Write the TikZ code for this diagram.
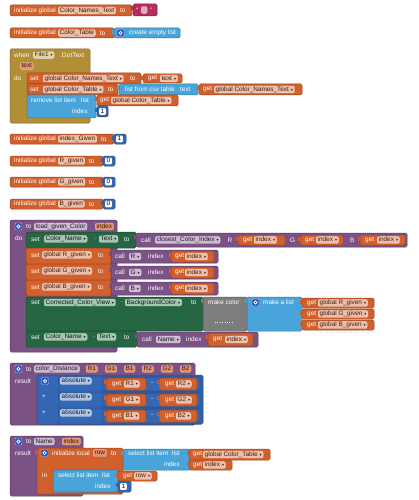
\documentclass[tikz,border=0pt]{standalone}
\usepackage{fontspec}
\setmainfont{Liberation Sans}
\newfontfamily\symfont{DejaVu Sans}
\usetikzlibrary{positioning}
\definecolor{varc}{RGB}{210,96,45}
\definecolor{textc}{RGB}{179,46,94}
\definecolor{listc}{RGB}{73,165,217}
\definecolor{evc}{RGB}{178,143,54}
\definecolor{mathc}{RGB}{52,104,180}
\definecolor{procc}{RGB}{123,82,134}
\definecolor{compc}{RGB}{38,102,66}
\definecolor{colc}{RGB}{125,125,125}
\definecolor{gearc}{RGB}{50,85,190}
\newcommand{\dd}{\hspace{2pt}{\symfont\fontsize{4}{4}\selectfont ▾}}
\newcommand{\blk}[5]{\draw[blk=#5] (#1,#2) rectangle (#3,#4);}
\newcommand{\vblk}[5]{\fill[#5] (#1-2,#2+2) rectangle (#1+1,#2+6);\draw[blk=#5] (#1,#2) rectangle (#3,#4);}

\begin{document}
\begin{tikzpicture}[x=1pt,y=-1pt,font=\fontsize{6.4}{7}\selectfont,
  blk/.style={draw=#1!72!black, fill=#1, rounded corners=1.5pt, line width=0.5pt},
  lbl/.style={anchor=west, inner sep=0pt, text=white},
  fld/.style={anchor=west, fill=#1!40!white, draw=white!75!#1, rounded corners=2pt, inner xsep=1.5pt, inner ysep=0.5pt, text height=4.6pt, text depth=1.3pt, text=#1!30!black},
  par/.style={anchor=west, fill=varc!70!white, draw=white!60!varc, rounded corners=2pt, inner xsep=1.5pt, inner ysep=0.5pt, text height=4.6pt, text depth=1.3pt, text=varc!30!black},
  num/.style={anchor=west, fill=white, rounded corners=1pt, inner xsep=1.5pt, inner ysep=0.5pt, text height=4.6pt, text depth=1.3pt, text=black},
  gear/.style={fill=gearc, draw=white!60!gearc, rounded corners=1pt, minimum size=7pt, inner sep=0pt,
    path picture={\draw[white, line width=0.7pt] (path picture bounding box.center) circle (1.6pt);}}]
\useasboundingbox (0,0) rectangle (418,500);
\fill[white] (0,0) rectangle (418,500);

\blk{10}{5}{132}{16}{varc}
\node[lbl] (ig1) at (14,10.5) {initialize global};
\node[fld=varc] (cnt) at (58,10.5) {Color\_Names\_Text};
\node[lbl] (to1) at (120,10.5) {to};
\vblk{133}{4}{157}{16}{textc}
\node[lbl] (q1) at (136,10) {“};
\node[fld=textc, minimum width=6pt] (str) at (141,10) {};
\node[lbl] (q2) at (150,10) {”};

\blk{10}{28}{114}{38}{varc}
\node[lbl] (ig2) at (14,33) {initialize global};
\node[fld=varc] (ct) at (58,33) {Color\_Table};
\node[lbl] (to2) at (100,33) {to};
\vblk{114}{28}{180}{38}{listc}
\node[gear] (g1) at (120.5,33) {};
\node[lbl] (cel) at (129,33) {create empty list};

\blk{10}{49}{90}{123}{evc}
\node[lbl] (when) at (14,55) {when};
\node[fld=evc] (file) at (33,55) {File1\dd};
\node[lbl] (got) at (60,55) {.GotText};
\node[par] (ptext) at (20,66) {text};
\node[lbl] (do1) at (14,78) {do};
\blk{27}{73}{141}{84}{varc}
\node[lbl] (set1) at (30,78.5) {set};
\node[fld=varc] (s1v) at (43,78.5) {global Color\_Names\_Text\dd};
\node[lbl] (to3) at (130,78.5) {to};
\vblk{143}{74}{182}{83}{varc}
\node[lbl] (get1) at (148,78.5) {get};
\node[fld=varc] (g1v) at (160,78.5) {text\dd};
\blk{27}{84}{118}{95}{varc}
\node[lbl] (set2) at (30,89.5) {set};
\node[fld=varc] (s2v) at (43,89.5) {global Color\_Table\dd};
\node[lbl] (to4) at (108,89.5) {to};
\vblk{119}{84}{198}{95}{listc}
\node[lbl] (lfc) at (125,89.5) {list from csv table};
\node[lbl] (lfct) at (180,89.5) {text};
\vblk{199}{84}{302}{95}{varc}
\node[lbl] (get2) at (203,89.5) {get};
\node[fld=varc] (g2v) at (214,89.5) {global Color\_Names\_Text\dd};
\blk{27}{95}{96}{118}{listc}
\node[lbl] (rli) at (31,100.5) {remove list item};
\node[lbl] (rlil) at (81,100.5) {list};
\vblk{97}{95}{178}{106}{varc}
\node[lbl] (get3) at (100,100.5) {get};
\node[fld=varc] (g3v) at (111,100.5) {global Color\_Table\dd};
\node[lbl] (idx1) at (72,111.5) {index};
\vblk{97}{106}{108}{117}{mathc}
\node[num] (n1) at (99,111.5) {1};

\blk{10}{134}{114}{144}{varc}
\node[lbl] (ig3) at (14,139) {initialize global};
\node[fld=varc] (ig3v) at (58,139) {index\_Given};
\node[lbl] (to5) at (101,139) {to};
\vblk{114}{134}{126}{144}{mathc}
\node[num] (n2) at (116,139) {1};
\foreach \c/\y in {R/156,G/177,B/199} {
  \blk{10}{\y}{103}{\y+10}{varc}
  \node[lbl] (ig\c) at (14,\y+5) {initialize global};
  \node[fld=varc] (iv\c) at (58,\y+5) {\c\_given};
  \node[lbl] (it\c) at (89,\y+5) {to};
  \vblk{103}{\y}{115}{\y+10}{mathc}
  \node[num] (in\c) at (105,\y+5) {0};
}

\blk{10}{220}{117}{352}{procc}
\node[gear] (g2) at (18.5,226.5) {};
\node[lbl] (to6) at (26,226.5) {to};
\node[fld=procc] (lgc) at (34,226.5) {load\_given\_Color};
\node[par] (p1) at (95,226.5) {index};
\node[lbl] (do2) at (15,238) {do};
\blk{26}{232}{136}{248}{compc}
\node[lbl] (set3) at (31,239) {set};
\node[fld=compc] (cn1) at (44,239) {Color\_Name\dd};
\node[lbl] (dot1) at (95,239) {.};
\node[fld=compc] (tx1) at (99,239) {Text\dd};
\node[lbl] (to7) at (124,239) {to};
\vblk{136}{233}{407}{247}{procc}
\node[lbl] (call1) at (141,240) {call};
\node[fld=procc] (cci) at (155,240) {closest\_Color\_Index\dd};
\node[lbl] (rr) at (227.5,240) {R};
\vblk{238}{235}{285}{245}{varc}
\node[lbl] (get4) at (243,240) {get};
\node[fld=varc] (gi1) at (254,240) {index\dd};
\node[lbl] (gg) at (290,240) {G};
\vblk{300}{235}{343}{245}{varc}
\node[lbl] (get5) at (305,240) {get};
\node[fld=varc] (gi2) at (316,240) {index\dd};
\node[lbl] (bb) at (350,240) {B};
\vblk{360}{235}{405}{245}{varc}
\node[lbl] (get6) at (365,240) {get};
\node[fld=varc] (gi3) at (377,240) {index\dd};
\foreach \c/\y in {R/248,G/264,B/280} {
  \blk{26}{\y}{111}{\y+16}{varc}
  \node[lbl] (set\c) at (31,\y+7) {set};
  \node[fld=varc] (gv\c) at (42,\y+7) {global \c\_given\dd};
  \node[lbl] (to\c) at (98,\y+7) {to};
  \vblk{111}{\y+2}{218}{\y+15}{procc}
  \node[lbl] (call\c) at (115,\y+8.5) {call};
  \node[fld=procc] (fn\c) at (129,\y+8.5) {\c\dd};
  \node[lbl] (ix\c) at (148,\y+8.5) {index};
  \vblk{171}{\y+3}{214}{\y+14}{varc}
  \node[lbl] (gt\c) at (175,\y+8.5) {get};
  \node[fld=varc] (gix\c) at (185,\y+8.5) {index\dd};
}
\blk{26}{297}{203}{331}{compc}
\node[lbl] (set4) at (31,302.5) {set};
\node[fld=compc] (ccv) at (44,302.5) {Corrected\_Color\_View\dd};
\node[lbl] (dot2) at (121,302.5) {.};
\node[fld=compc] (bgc) at (125,302.5) {BackgroundColor\dd};
\node[lbl] (to8) at (191,302.5) {to};
\vblk{203}{297}{247}{331}{colc}
\node[lbl] (mkc) at (208,302.5) {make color};
\draw[dotted, white!85!colc] (215,322) -- (233,322);
\vblk{247}{297}{302}{331}{listc}
\node[gear] (g3) at (255.5,302.5) {};
\node[lbl] (mal) at (263,302.5) {make a list};
\foreach \c/\y in {R/297,G/308,B/319} {
  \vblk{302}{\y+1}{374}{\y+11}{varc}
  \node[lbl] (gl\c) at (307,\y+6) {get};
  \node[fld=varc] (gg\c) at (318,\y+6) {global \c\_given\dd};
}
\draw[dotted, black!15] (320,332.5) -- (373,332.5);
\blk{26}{331}{137}{347}{compc}
\node[lbl] (set5) at (31,337) {set};
\node[fld=compc] (cn2) at (44,337) {Color\_Name\dd};
\node[lbl] (dot3) at (93,337) {.};
\node[fld=compc] (tx2) at (97,337) {Text\dd};
\node[lbl] (to9) at (124,337) {to};
\vblk{137}{332}{258}{347}{procc}
\node[lbl] (call2) at (142,339.5) {call};
\node[fld=procc] (nm) at (156,339.5) {Name\dd};
\node[lbl] (ix2) at (186,339.5) {index};
\vblk{208}{333}{253}{346}{varc}
\node[lbl] (get7) at (213,339.5) {get};
\node[fld=varc] (gi4) at (225,339.5) {index\dd};

\blk{10}{363}{195}{425}{procc}
\node[gear] (g4) at (18.5,369) {};
\node[lbl] (to10) at (26,369) {to};
\node[fld=procc] (cdn) at (34,369) {color\_Distance};
\foreach \p/\x in {R1/86,G1/105,B1/124,R2/142,G2/161,B2/180}
  \node[par] (p\p) at (\x,369) {\p};
\node[lbl] (res1) at (15,381) {result};
\vblk{37}{375}{203}{424}{mathc}
\node[gear] (g5) at (45,381) {};
\node[lbl] (pl1) at (42,397) {+};
\node[lbl] (pl2) at (42,413) {+};
\foreach \a/\b/\y in {R1/R2/376,G1/G2/392,B1/B2/408} {
  \vblk{58}{\y}{202}{\y+16}{mathc}
  \node[fld=mathc] (ab\a) at (60,\y+5) {absolute\dd};
  \vblk{102}{\y+1}{200}{\y+15}{mathc}
  \vblk{106}{\y+2}{146}{\y+14}{varc}
  \node[lbl] (ga\a) at (112,\y+8) {get};
  \node[fld=varc] (fa\a) at (124,\y+8) {\a\dd};
  \node[lbl] (mi\a) at (151,\y+8) {-};
  \vblk{159}{\y+2}{197}{\y+14}{varc}
  \node[lbl] (gb\a) at (165,\y+8) {get};
  \node[fld=varc] (fb\a) at (176,\y+8) {\b\dd};
}

\blk{10}{436}{83}{496}{procc}
\node[gear] (g6) at (18.5,441.5) {};
\node[lbl] (to11) at (26,441.5) {to};
\node[fld=procc] (nmp) at (34,441.5) {Name};
\node[par] (p2) at (62,441.5) {index};
\node[lbl] (res2) at (15,453) {result};
\vblk{37}{448}{123}{494}{varc}
\node[gear] (g7) at (44.5,453) {};
\node[lbl] (ilc) at (52,453) {initialize local};
\node[par] (prow) at (93,453) {row};
\node[lbl] (to12) at (111,453) {to};
\vblk{123}{449}{190}{470}{listc}
\node[lbl] (sli1) at (128,453.5) {select list item};
\node[lbl] (sll1) at (172,453.5) {list};
\node[lbl] (sli1i) at (164,464.5) {index};
\vblk{189}{449}{270}{460}{varc}
\node[lbl] (get8) at (193,454.5) {get};
\node[fld=varc] (gct) at (203,454.5) {global Color\_Table\dd};
\vblk{189}{460}{232}{470}{varc}
\node[lbl] (get9) at (193,465) {get};
\node[fld=varc] (gi5) at (203,465) {index\dd};
\node[lbl] (in1) at (42,475.5) {in};
\blk{53}{470}{118}{492}{listc}
\node[lbl] (sli2) at (58,475.5) {select list item};
\node[lbl] (sll2) at (102,475.5) {list};
\node[lbl] (sli2i) at (95,486.5) {index};
\vblk{118}{471}{157}{481}{varc}
\node[lbl] (get10) at (123,476) {get};
\node[fld=varc] (grow) at (134,476) {row\dd};
\vblk{118}{481}{131}{492}{mathc}
\node[num] (n6) at (120,486.5) {1};
\end{tikzpicture}
\end{document}
